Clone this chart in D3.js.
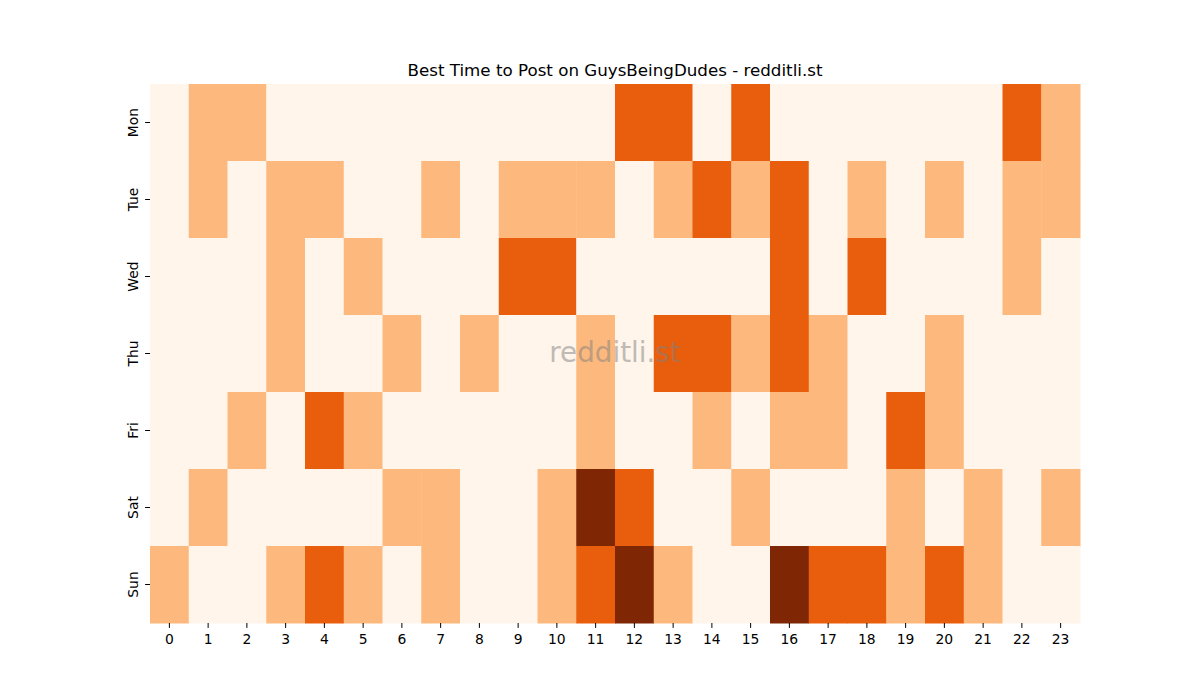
<!DOCTYPE html>
<html lang="en">
<head>
  <meta charset="UTF-8">
  <title>Best Time to Post on GuysBeingDudes</title>
  <script src="https://d3js.org/d3.v7.min.js"></script>
  <style>
    body { margin: 0; background: #fff; }
    svg { font-family: "DejaVu Sans", sans-serif; }
  </style>
</head>
<body>
  <div id="chart"></div>
  <script>
    const width = 1200, height = 700;
    const margin = {top: 84, right: 120, bottom: 77, left: 150};

    const hours = d3.range(0, 24).map(String);
    const days = ["Mon", "Tue", "Wed", "Thu", "Fri", "Sat", "Sun"];

    // activity level per day, one value per hour (0..3)
    const mon = [0,1,1,0,0,0,0,0,0,0,0,0,2,2,0,2,0,0,0,0,0,0,2,1];
    const tue = [0,1,0,1,1,0,0,1,0,1,1,1,0,1,2,1,2,0,1,0,1,0,1,1];
    const wed = [0,0,0,1,0,1,0,0,0,2,2,0,0,0,0,0,2,0,2,0,0,0,1,0];
    const thu = [0,0,0,1,0,0,1,0,1,0,0,1,0,2,2,1,2,1,0,0,1,0,0,0];
    const fri = [0,0,1,0,2,1,0,0,0,0,0,1,0,0,1,0,1,1,0,2,1,0,0,0];
    const sat = [0,1,0,0,0,0,1,1,0,0,1,3,2,0,0,1,0,0,0,1,0,1,0,1];
    const sun = [1,0,0,1,2,1,0,1,0,0,1,2,3,1,0,0,3,2,2,1,2,1,0,0];
    const rows = [mon, tue, wed, thu, fri, sat, sun];

    const cells = [];
    rows.forEach((r, i) => r.forEach((v, j) => cells.push({day: days[i], hour: hours[j], value: v})));

    const svg = d3.select("#chart").append("svg")
      .attr("width", width)
      .attr("height", height);

    const x = d3.scaleBand().domain(hours).range([margin.left, width - margin.right]);
    const y = d3.scaleBand().domain(days).range([margin.top, height - margin.bottom]);

    const color = d3.scaleOrdinal()
      .domain([0, 1, 2, 3])
      .range(["#fff5eb", "#fdb97d", "#e95e0d", "#7f2704"]);

    svg.append("g")
      .selectAll("rect")
      .data(cells)
      .enter().append("rect")
      .attr("x", d => x(d.hour))
      .attr("y", d => y(d.day))
      .attr("width", x.bandwidth() + 0.5)
      .attr("height", y.bandwidth() + 0.5)
      .attr("fill", d => color(d.value));

    const xAxis = svg.append("g")
      .attr("transform", `translate(0,${height - margin.bottom})`)
      .call(d3.axisBottom(x).tickSize(4.9).tickPadding(4));
    xAxis.select(".domain").remove();
    xAxis.attr("font-family", null).attr("font-size", null);
    xAxis.selectAll(".tick line").attr("stroke", "#000").attr("stroke-width", 1);
    xAxis.selectAll(".tick text")
      .style("font-size", "13.9px")
      .style("fill", "#000")
      .attr("dy", "0.85em");

    const yAxis = svg.append("g")
      .attr("transform", `translate(${margin.left},0)`)
      .call(d3.axisLeft(y).tickSize(4.9).tickPadding(4));
    yAxis.select(".domain").remove();
    yAxis.attr("font-family", null).attr("font-size", null);
    yAxis.selectAll(".tick line").attr("stroke", "#000");
    yAxis.selectAll(".tick text")
      .style("font-size", "13.9px")
      .style("fill", "#000")
      .attr("x", 0)
      .attr("text-anchor", "middle")
      .attr("transform", "translate(-17,0) rotate(-90)")
      .attr("dy", "0.35em");

    // title
    svg.append("text")
      .attr("x", (margin.left + width - margin.right) / 2)
      .attr("y", 76)
      .attr("text-anchor", "middle")
      .style("font-size", "16.7px")
      .text("Best Time to Post on GuysBeingDudes - redditli.st");

    // watermark
    svg.append("text")
      .attr("x", (margin.left + width - margin.right) / 2)
      .attr("y", (margin.top + height - margin.bottom) / 2)
      .attr("text-anchor", "middle")
      .attr("dominant-baseline", "middle")
      .style("font-size", "27.8px")
      .style("fill", "#808080")
      .style("opacity", 0.5)
      .text("redditli.st");
  </script>
</body>
</html>
